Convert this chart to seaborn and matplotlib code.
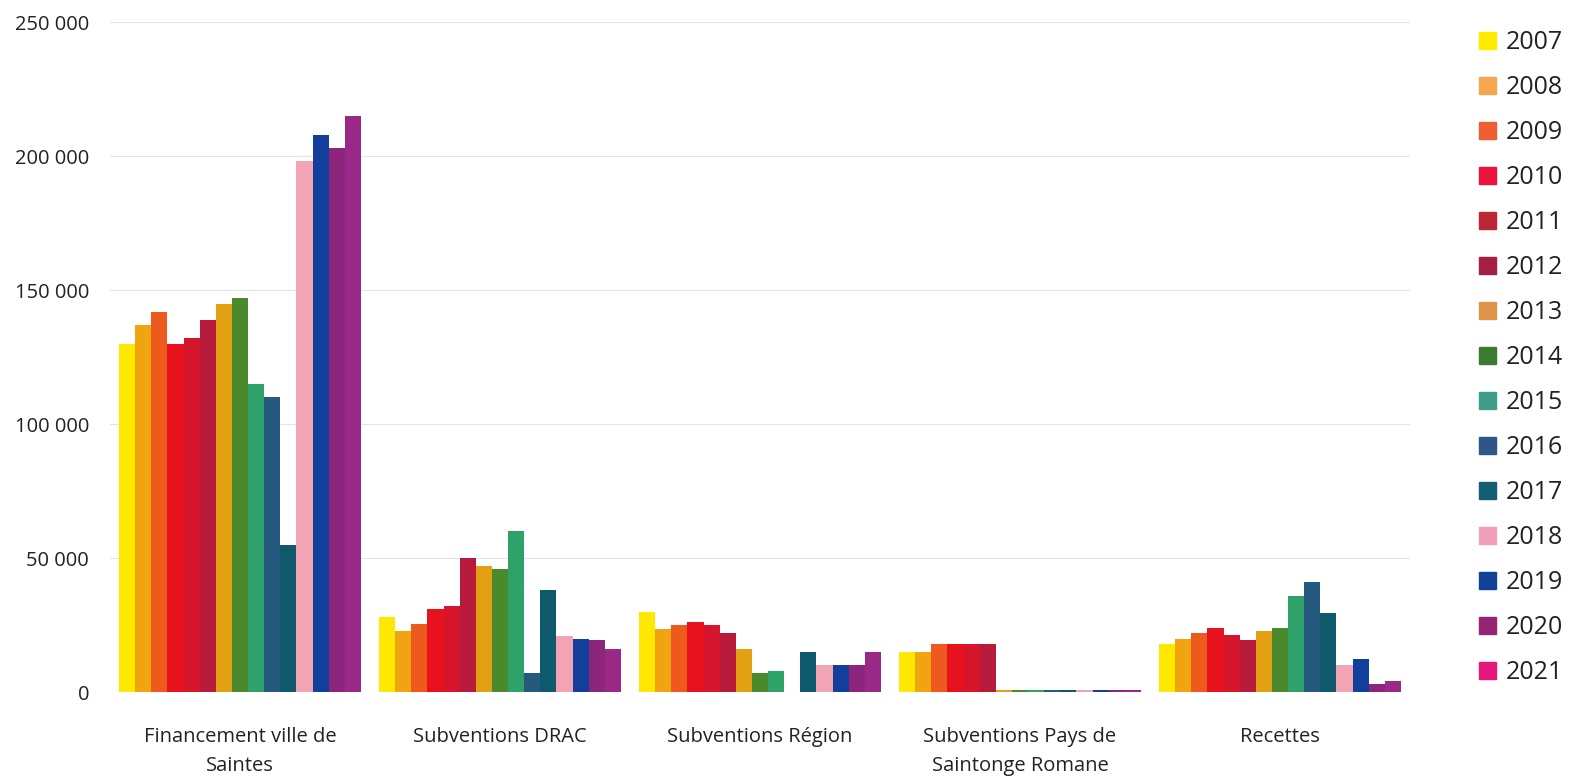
import matplotlib
matplotlib.use("Agg")
import matplotlib.pyplot as plt
import matplotlib.patches as mpatches
from matplotlib.ticker import FuncFormatter
import pandas as pd
import seaborn as sns

# ==========================================
# Données
# ==========================================
categories = [
    "Financement ville de\nSaintes",
    "Subventions DRAC",
    "Subventions Région",
    "Subventions Pays de\nSaintonge Romane",
    "Recettes",
]
years = [str(y) for y in range(2007, 2022)]

financement_ville = [130000, 137000, 142000, 130000, 132000, 139000, 145000, 147000,
                     115000, 110000, 55000, 198000, 208000, 203000, 215000]
subv_drac = [28000, 23000, 25500, 31000, 32000, 50000, 47000, 46000,
             60000, 7000, 38000, 21000, 20000, 19500, 16000]
subv_region = [30000, 23500, 25000, 26000, 25000, 22000, 16000, 7000,
               8000, 0, 15000, 10000, 10000, 10000, 15000]
subv_pays = [15000, 15000, 18000, 18000, 18000, 18000, 800, 800,
             800, 800, 800, 800, 800, 800, 800]
recettes = [18000, 20000, 22000, 24000, 21500, 19500, 23000, 24000,
            36000, 41000, 29500, 10000, 12500, 3000, 4000]

bar_colors = ["#FFE800", "#F0A410", "#EE5A1E", "#E8121E", "#D4152C", "#B81A3C",
              "#E2A012", "#4A8A2C", "#2EA268", "#255A7E", "#0E596C", "#F2A3B4",
              "#123F9C", "#8C257C", "#9A2886"]
legend_colors = ["#FFEB00", "#F6A650", "#EE5E30", "#E8143A", "#BC2636", "#A41F42",
                 "#DC9448", "#3E7A32", "#3E9E8A", "#2E5688", "#125E74", "#F0A0B8",
                 "#13419A", "#942474", "#E8187A"]

rows = []
for cat, vals in zip(categories, [financement_ville, subv_drac, subv_region, subv_pays, recettes]):
    for yr, v in zip(years, vals):
        rows.append({"categorie": cat, "annee": yr, "montant": v})
df = pd.DataFrame(rows)

# ==========================================
# Graphique
# ==========================================
sns.set_style("white")
plt.rcParams["font.family"] = ["Open Sans", "DejaVu Sans"]

fig = plt.figure(figsize=(15.87, 7.76), dpi=100)
ax = fig.add_axes([0.0693, 0.108, 0.8192, 0.8636])

sns.barplot(
    data=df, x="categorie", y="montant", hue="annee",
    palette=bar_colors, width=0.93, gap=0, dodge=True,
    legend=False, ax=ax, saturation=1, edgecolor="none",
)

ax.set_ylim(0, 250000)
ax.set_xlim(-0.5, 4.5)
ax.set_yticks(range(0, 250001, 50000))
ax.yaxis.set_major_formatter(FuncFormatter(lambda v, p: f"{int(v):,}".replace(",", " ")))
ax.grid(axis="y", color="#E4E4E4", linewidth=0.8)
ax.set_axisbelow(True)
for s in ax.spines.values():
    s.set_visible(False)
ax.tick_params(axis="y", length=0, pad=15, labelsize=14.5, labelcolor="#222222")
ax.tick_params(axis="x", length=0, pad=25, labelsize=14.5, labelcolor="#222222")
for lbl in ax.get_xticklabels():
    lbl.set_linespacing(1.6)
ax.set_xlabel("")
ax.set_ylabel("")

handles = [mpatches.Patch(color=c, label=y) for c, y in zip(legend_colors, years)]
fig.legend(
    handles=handles, loc="upper left", bbox_to_anchor=(0.918, 0.99),
    frameon=False, fontsize=18, labelspacing=0.8,
    handlelength=0.65, handleheight=0.65, handletextpad=0.4,
    labelcolor="#222222",
)

fig.savefig("out.png", dpi=100)
